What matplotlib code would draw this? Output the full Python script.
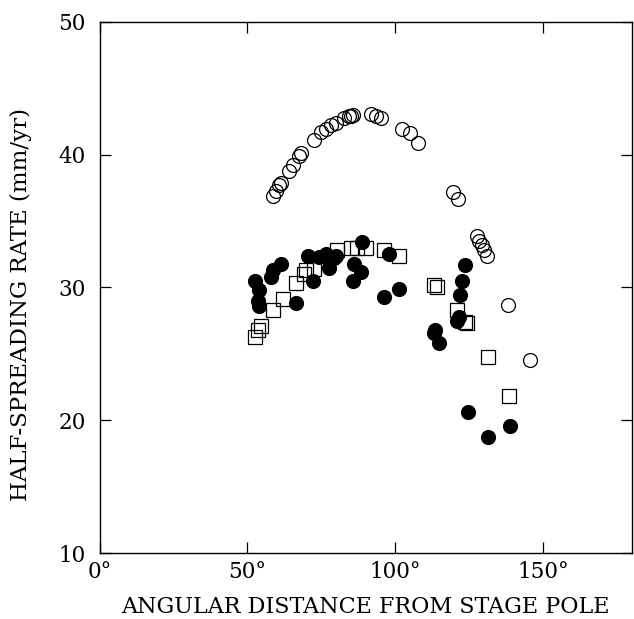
import matplotlib
matplotlib.use('Agg')
import matplotlib.pyplot as plt
from matplotlib.ticker import FuncFormatter

# open circles: upper branch
open_x = [58.5, 59.7, 60.8, 61.3, 64.1, 65.3, 67.5, 68.1, 72.6, 74.8, 76.5, 78.2, 79.9,
          82.7, 84.3, 85.5, 84.9, 91.6, 93.3, 95.0, 102.3, 104.9, 107.7,
          119.6, 121.1, 127.5, 128.4, 129.2, 130.1, 130.9, 138.0, 145.5]
open_y = [36.9, 37.3, 37.7, 37.9, 38.8, 39.2, 39.9, 40.1, 41.1, 41.7, 41.9, 42.2, 42.4,
          42.8, 42.9, 43.0, 42.9, 43.1, 42.9, 42.8, 41.9, 41.6, 40.9,
          37.2, 36.7, 33.9, 33.5, 33.2, 32.8, 32.4, 28.7, 24.5]

# filled circles
fill_x = [52.4, 54.0, 53.5, 54.0, 58.0, 58.5, 61.3, 66.4, 70.3, 72.0, 74.2, 76.5, 77.6,
          79.9, 79.3, 86.0, 88.3, 85.5, 88.8, 97.8, 96.1, 101.2,
          113.0, 113.5, 114.6, 120.8, 121.4, 122.0, 122.5, 123.6,
          124.7, 131.2, 138.8]
fill_y = [30.5, 29.8, 29.0, 28.6, 30.8, 31.3, 31.8, 28.8, 32.4, 30.5, 32.3, 32.5, 31.5,
          32.4, 32.2, 31.8, 31.2, 30.5, 33.4, 32.5, 29.3, 29.9,
          26.6, 26.8, 25.8, 27.5, 27.8, 29.4, 30.5, 31.7,
          20.6, 18.7, 19.6]

# open squares
sq_x = [52.4, 53.5, 54.6, 58.5, 61.9, 66.4, 69.2, 69.8, 72.6, 80.4, 84.9, 87.0, 90.0,
        96.1, 101.2, 113.0, 114.0, 120.8, 123.6, 124.2, 131.2, 138.4]
sq_y = [26.3, 26.8, 27.1, 28.3, 29.1, 30.3, 31.0, 31.3, 31.4, 32.8, 33.0, 33.0, 33.0,
        32.8, 32.4, 30.2, 30.0, 28.3, 27.4, 27.3, 24.8, 21.8]

plt.rcParams['font.family'] = 'DejaVu Serif'

fig = plt.figure(figsize=(6.34, 6.19), dpi=100)
ax = fig.add_axes([0.157, 0.1066, 0.840, 0.858])

ax.plot(sq_x, sq_y, 's', ms=9.5, mfc='none', mec='k', mew=0.9, ls='none')
ax.plot(fill_x, fill_y, 'o', ms=10, mfc='k', mec='k', mew=0.9, ls='none')
ax.plot(open_x, open_y, 'o', ms=10, mfc='none', mec='k', mew=0.9, ls='none')

ax.set_xlim(0, 180)
ax.set_ylim(10, 50)
ax.set_xticks([0, 50, 100, 150])
ax.set_yticks([10, 20, 30, 40, 50])
ax.xaxis.set_major_formatter(FuncFormatter(lambda v, p: f'{int(v)}°'))
ax.tick_params(direction='in', length=8, width=0.9, top=True, right=True,
               labelsize=15.5)
ax.tick_params(axis='x', pad=6)
ax.tick_params(axis='y', pad=10)
for s in ax.spines.values():
    s.set_linewidth(1.0)

ax.set_xlabel('ANGULAR DISTANCE FROM STAGE POLE', fontsize=16, labelpad=9)
ax.set_ylabel('HALF-SPREADING RATE (mm/yr)', fontsize=16.5)
ax.yaxis.set_label_coords(-0.126, 0.467)

fig.savefig('out.png', dpi=100)
